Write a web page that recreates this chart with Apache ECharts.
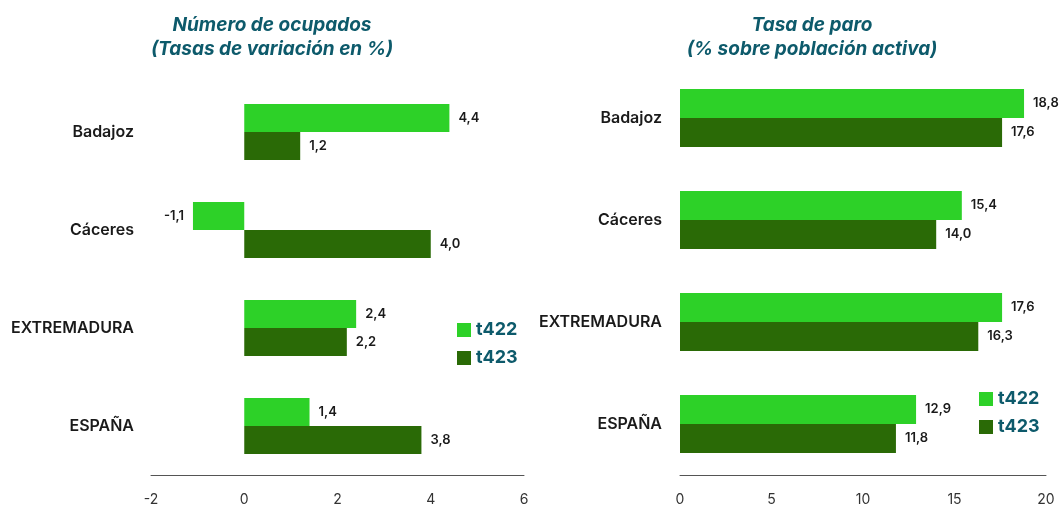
<!DOCTYPE html>
<html>
<head>
<meta charset="utf-8">
<script src="https://cdn.jsdelivr.net/npm/echarts@6/dist/echarts.min.js"></script>
<style>
  html, body { margin: 0; padding: 0; background: #fff; }
  #main { width: 1061px; height: 508px; }
</style>
</head>
<body>
<div id="main"></div>
<script>
// datos
const categories = ['Badajoz', 'Cáceres', 'EXTREMADURA', 'ESPAÑA'];
const seriesNames = ['t422', 't423'];
const ocupados422 = [4.4, -1.1, 2.4, 1.4];
const ocupados423 = [1.2, 4.0, 2.2, 3.8];
const paro422 = [18.8, 15.4, 17.6, 12.9];
const paro423 = [17.6, 14.0, 16.3, 11.8];
const ocupadosTicks = [-2, 6, 2];   // min, max, intervalo
const paroTicks = [0, 20, 5];

const FONT = 'Inter, "Noto Sans", sans-serif';
const TEAL = '#0d5a6b';
const colors = { t422: '#2dd128', t423: '#2a6a06' };

let fmt = function(v){ return v.toFixed(1).replace('.', ','); };

let toData = function(arr){
    return arr.map(function(v){
        return v < 0 ? { value: v, label: { position: 'left' } } : { value: v };
    });
};

let makeBar = function(name, data, idx){
    return {
        name: name,
        type: 'bar',
        xAxisIndex: idx,
        yAxisIndex: idx,
        data: toData(data),
        barGap: '0%',
        barCategoryGap: '43%',
        itemStyle: { color: colors[name] },
        label: {
            show: true,
            position: 'right',
            distance: 9,
            fontFamily: FONT,
            fontSize: 13,
            fontWeight: 600,
            color: '#1a1a1a',
            formatter: function(p){ return fmt(p.value); }
        }
    };
};

let valueAxis = function(idx, ticks){
    return {
        type: 'value',
        gridIndex: idx,
        min: ticks[0], max: ticks[1], interval: ticks[2],
        splitLine: { show: false },
        axisTick: { show: false },
        axisLine: { show: true, onZero: false, lineStyle: { color: '#555', width: 1 } },
        axisLabel: { margin: 18, fontFamily: FONT, fontSize: 14, color: '#333' }
    };
};

let catAxis = function(idx, margin){
    return {
        type: 'category',
        gridIndex: idx,
        data: categories,
        inverse: true,
        axisLine: { show: false, onZero: false },
        axisTick: { show: false },
        axisLabel: { margin: margin, fontFamily: FONT, fontSize: 16, fontWeight: 600, color: '#1a1a1a' }
    };
};

let titleStyle = {
    fontFamily: FONT, fontSize: 19, fontStyle: 'italic', fontWeight: 'bold',
    color: TEAL, lineHeight: 24, align: 'center'
};

let legendBox = function(left, top){
    return {
        data: seriesNames,
        orient: 'vertical',
        left: left, top: top,
        itemWidth: 14, itemHeight: 14, itemGap: 10,
        icon: 'rect',
        textStyle: { fontFamily: FONT, fontSize: 18, fontWeight: 'bold', color: TEAL }
    };
};

const chart = echarts.init(document.getElementById('main'), null, { renderer: 'canvas' });
chart.setOption({
    animation: false,
    title: [
        { text: 'Número de ocupados\n(Tasas de variación en %)', left: 267, top: 8, textAlign: 'center', textStyle: titleStyle },
        { text: 'Tasa de paro\n(% sobre población activa)', left: 807, top: 8, textAlign: 'center', textStyle: titleStyle }
    ],
    legend: [legendBox(452, 316), legendBox(974, 385)],
    grid: [
        { left: 151, width: 373, top: 83, height: 392, outerBoundsMode: 'none', containLabel: false },
        { left: 680, width: 366, top: 67, height: 408, outerBoundsMode: 'none', containLabel: false }
    ],
    xAxis: [valueAxis(0, ocupadosTicks), valueAxis(1, paroTicks)],
    yAxis: [catAxis(0, 17), catAxis(1, 18)],
    series: [
        makeBar('t422', ocupados422, 0),
        makeBar('t423', ocupados423, 0),
        makeBar('t422', paro422, 1),
        makeBar('t423', paro423, 1)
    ]
});
</script>
</body>
</html>
